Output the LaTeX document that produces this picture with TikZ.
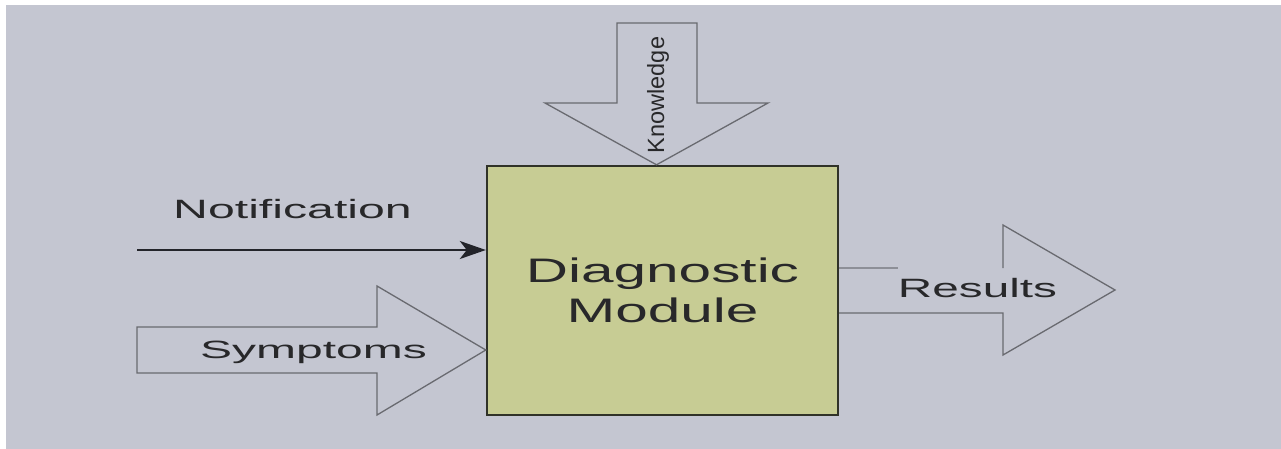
\documentclass[tikz,border=0pt]{standalone}
\usepackage{fontspec}
\setmainfont{Liberation Sans}
\usetikzlibrary{arrows.meta}
\definecolor{paper}{RGB}{196,198,209}
\definecolor{modfill}{RGB}{199,204,148}
\definecolor{modline}{RGB}{48,50,40}
\definecolor{fatline}{RGB}{105,106,112}
\definecolor{inkline}{RGB}{35,36,42}
\definecolor{txt}{RGB}{40,40,42}
\tikzset{
  fatarrow/.style={draw=fatline, line width=1.3pt, fill=paper, line join=miter},
  module/.style={draw=modline, line width=2.4pt, fill=modfill,
    minimum width=351pt, minimum height=249pt, inner sep=0pt,
    align=center, text=txt,
    font=\fontsize{34}{40}\selectfont},
  lbl/.style={anchor=base, inner sep=0pt, text=txt},
  signal/.style={draw=inkline, line width=2.4pt,
    -{Stealth[length=26pt, width=18pt, inset=7pt]}}
}
\begin{document}
\begin{tikzpicture}[x=1pt, y=-1pt]
  % page and backdrop
  \useasboundingbox (0,0) rectangle (1281,449);
  \fill[white] (0,0) rectangle (1281,449);
  \fill[paper] (6,5) rectangle (1281,449);

  % central block
  \node[module] (dm) at (662.5,290.5)
    {\scalebox{1.72}[1]{Diagnostic}\\\scalebox{1.72}[1]{Module}};

  % knowledge enters from above
  \draw[fatarrow] (617,23) -- (697,23) -- (697,103) -- (768,103)
    -- (dm.north -| 656.5,0) -- (545,103) -- (617,103) -- cycle;
  \node[lbl, rotate=90, font=\fontsize{23.5}{28}\selectfont] (kn) at (664,95) {Knowledge};

  % symptoms enter from the left
  \draw[fatarrow] (137,327) -- (377,327) -- (377,286)
    -- (dm.west |- 0,350) -- (377,415) -- (377,373) -- (137,373) -- cycle;
  \node[lbl, font=\fontsize{25}{30}\selectfont] (sy) at (313.5,358)
    {\scalebox{1.92}[1]{Symptoms}};

  % notification signal
  \coordinate (nstart) at (137,250);
  \draw[signal] (nstart) -- (dm.west |- nstart);
  \node[lbl, font=\fontsize{26.5}{30}\selectfont] (no) at (292.5,218)
    {\scalebox{1.82}[1]{Notification}};

  % results leave to the right
  \node[lbl, font=\fontsize{26.5}{30}\selectfont] (re) at (977.5,297)
    {\scalebox{1.8}[1]{Results}};
  \draw[draw=fatline!60!paper, line width=1.2pt] (dm.east |- 0,268) -- (re.west |- 0,268);
  \draw[fatarrow, fill=none] (1003,268) -- (1003,225) -- (1115,290)
    -- (1003,355) -- (1003,313) -- (dm.east |- 0,313);
\end{tikzpicture}
\end{document}
